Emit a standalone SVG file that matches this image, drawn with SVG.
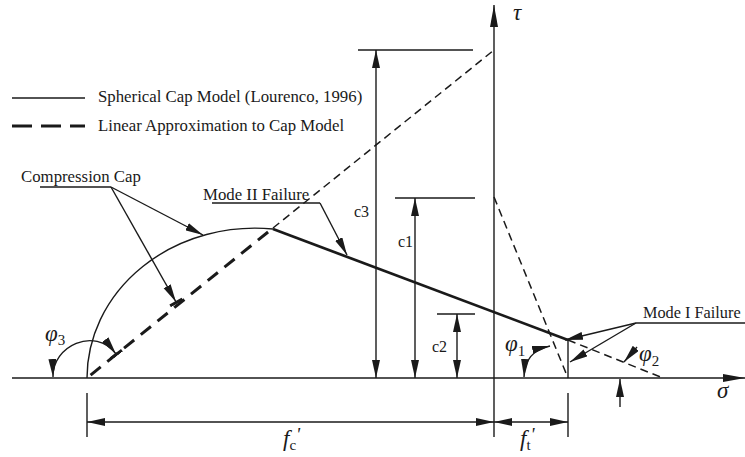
<svg xmlns="http://www.w3.org/2000/svg" width="745" height="457" viewBox="0 0 745 457">
<style>
.ln{stroke:#1a1a1a;stroke-width:1.4;fill:none}
.th{stroke:#1a1a1a;stroke-width:2.7;fill:none}
.dt{stroke:#1a1a1a;stroke-width:1.5;fill:none;stroke-dasharray:8 5}
.dk{stroke:#1a1a1a;stroke-width:3;fill:none;stroke-dasharray:13 8.5}
.ar{marker-end:url(#a)}
.ar2{marker-start:url(#a);marker-end:url(#a)}
text{font-family:"Liberation Serif","Times New Roman",serif;fill:#1a1a1a}
.lb{font-size:16.8px}
.cl{font-size:16px}
.gk{font-size:23px;font-style:italic}
.sb{font-size:15px;font-style:normal}
.pr{font-size:19px;font-style:italic}
</style>
<defs>
<marker id="a" viewBox="0 0 18 8" refX="18" refY="4" markerWidth="18" markerHeight="8" markerUnits="userSpaceOnUse" orient="auto-start-reverse">
<path d="M0,0 L18,4 L0,8 z" fill="#1a1a1a"/>
</marker>
<marker id="at" viewBox="0 0 20 16" refX="18" refY="8" markerWidth="20" markerHeight="16" markerUnits="userSpaceOnUse" orient="auto">
<path d="M0,4 L18,8 L0,12 z" fill="#1a1a1a"/>
<rect x="17" y="1" width="3" height="14" fill="#1a1a1a"/>
</marker>
<marker id="ax" viewBox="0 0 22 8" refX="22" refY="4" markerWidth="22" markerHeight="8" markerUnits="userSpaceOnUse" orient="auto">
<path d="M0,0 L22,4 L0,8 z" fill="#1a1a1a"/>
</marker>
</defs>

<g id="legend">
<line class="ln" x1="12" y1="98" x2="85" y2="98"/>
<text class="lb" x="98" y="102">Spherical Cap Model (Lourenco, 1996)</text>
<line x1="12" y1="126" x2="85" y2="126" stroke="#1a1a1a" stroke-width="3" stroke-dasharray="20 9"/>
<text class="lb" x="98" y="131">Linear Approximation to Cap Model</text>
</g>

<g id="axes">
<line class="ln" x1="12" y1="378" x2="745" y2="378" marker-end="url(#ax)"/>
<line class="ln" x1="494" y1="437" x2="494" y2="5" marker-end="url(#ax)"/>
<text class="gk" x="513" y="20">τ</text>
<text class="gk" x="717" y="398">σ</text>
</g>

<g id="cap-model">
<path class="ln" d="M87,378 A168,150 0 0 1 273,229"/>
<line class="th" x1="273" y1="229" x2="568" y2="340"/>
<line class="ln" x1="568" y1="340" x2="568" y2="378"/>
</g>

<g id="linear-approx">
<line class="dk" x1="87" y1="378" x2="273" y2="228" stroke-dashoffset="16.9"/>
<line class="dt" x1="273" y1="228" x2="494" y2="50"/>
<line class="dt" x1="494" y1="197" x2="568" y2="378"/>
<line class="dt" x1="568" y1="340" x2="663" y2="378"/>
</g>

<g id="dimensions">
<line class="ln" x1="358" y1="50" x2="473" y2="50"/>
<line class="ln ar2" x1="376" y1="50" x2="376" y2="378"/>
<text class="cl" x="354" y="217">c3</text>
<line class="ln" x1="395" y1="198" x2="475" y2="198"/>
<line class="ln ar2" x1="415" y1="198" x2="415" y2="378"/>
<text class="cl" x="398" y="247">c1</text>
<line class="ln" x1="437" y1="314" x2="475" y2="314"/>
<line class="ln ar2" x1="457" y1="314" x2="457" y2="378"/>
<text class="cl" x="432" y="352">c2</text>
<line class="ln" x1="87" y1="393" x2="87" y2="437"/>
<line class="ln" x1="568" y1="393" x2="568" y2="437"/>
<line class="ln ar2" x1="87" y1="422" x2="494" y2="422"/>
<line class="ln ar2" x1="494" y1="422" x2="568" y2="422"/>
<text class="gk" x="283" y="446">f<tspan class="sb" dy="4">c</tspan><tspan class="pr" dy="-9">'</tspan></text>
<text class="gk" x="520" y="446">f<tspan class="sb" dy="4">t</tspan><tspan class="pr" dy="-9">'</tspan></text>
</g>

<g id="angles">
<path class="ln" d="M53,377 C52,346 95,326 116,354" marker-start="url(#a)" marker-end="url(#at)"/>
<text class="gk" x="45" y="341">φ<tspan class="sb" dy="4">3</tspan></text>
<path class="ln ar2" d="M524,377 C525,360 532,350 550,346"/>
<text class="gk" x="505" y="351">φ<tspan class="sb" dy="5">1</tspan></text>
<line class="ln ar" x1="637" y1="347" x2="624" y2="362"/>
<line class="ln ar" x1="620" y1="407" x2="620" y2="379"/>
<text class="gk" x="639" y="361">φ<tspan class="sb" dy="5">2</tspan></text>
</g>

<g id="label-compression-cap">
<text class="lb" x="21" y="182">Compression Cap</text>
<line class="ln" x1="40" y1="187" x2="111" y2="187"/>
<line class="ln ar" x1="111" y1="187" x2="203" y2="235"/>
<line class="ln" x1="111" y1="187" x2="176" y2="302" marker-end="url(#at)"/>
</g>

<g id="label-mode2">
<text class="lb" x="203" y="200">Mode II Failure</text>
<line class="ln" x1="212" y1="203" x2="320" y2="203"/>
<line class="ln ar" x1="320" y1="203" x2="347" y2="255"/>
</g>

<g id="label-mode1">
<text x="643" y="318" font-size="16.3">Mode I Failure</text>
<line class="ln" x1="636" y1="323" x2="745" y2="323"/>
<line class="ln ar" x1="636" y1="323" x2="565" y2="340"/>
<line class="ln ar" x1="636" y1="323" x2="570" y2="362"/>
</g>
</svg>
